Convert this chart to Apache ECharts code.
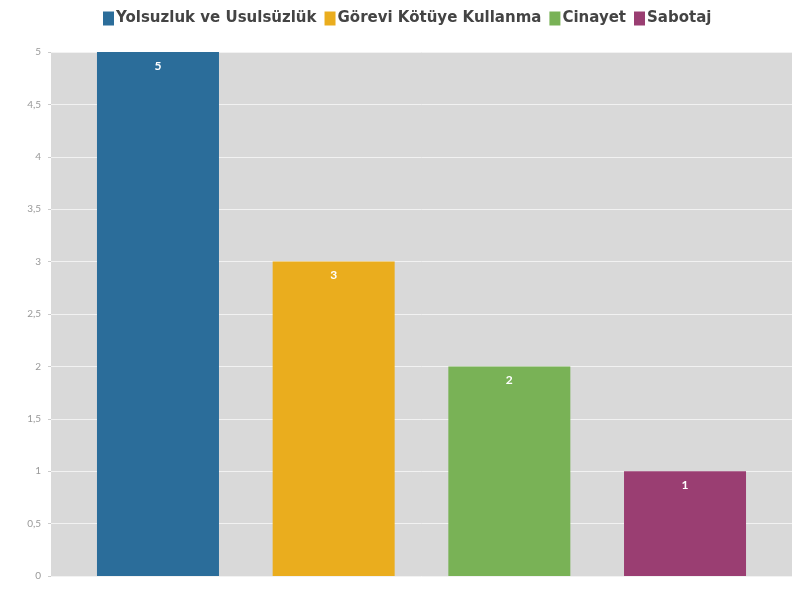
<!DOCTYPE html>
<html>
<head>
<meta charset="utf-8">
<script src="https://cdn.jsdelivr.net/npm/echarts@6/dist/echarts.min.js"></script>
<style>html,body{margin:0;padding:0;background:#fff}#c{width:798px;height:590px}</style>
</head>
<body>
<div id="c"></div>
<script>
const seriesNames = ['Yolsuzluk ve Usulsüzlük', 'Görevi Kötüye Kullanma', 'Cinayet', 'Sabotaj'];
const seriesValues = [5, 3, 2, 1];
const seriesColors = ['#2b6d9a', '#eaad1e', '#79b256', '#9a3e72'];
const categories = [''];
const yTicks = { min: 0, max: 5, interval: 0.5 };

const chart = echarts.init(document.getElementById('c'));
chart.setOption({
  animation: false,
  legend: {
    top: 6, left: 98, itemWidth: 11, itemHeight: 14, itemGap: 8,
    icon: 'rect',
    textStyle: { fontFamily: 'DejaVu Sans', fontWeight: 'bold', fontSize: 15, color: '#444', padding: [0, 0, 0, -3] }
  },
  grid: { left: 51, right: 6, top: 52, bottom: 14, show: true, backgroundColor: '#d9d9d9', borderWidth: 0 },
  xAxis: { type: 'category', data: categories, axisLine: { show: false }, axisTick: { show: false }, axisLabel: { show: false } },
  yAxis: {
    type: 'value', min: yTicks.min, max: yTicks.max, interval: yTicks.interval,
    axisLine: { show: false },
    axisTick: { show: true, length: 3, lineStyle: { color: '#ccc' } },
    axisLabel: { color: '#999', fontSize: 10, fontFamily: 'Lato', margin: 10, formatter: v => String(v).replace('.', ',') },
    splitLine: { lineStyle: { color: '#f2f2f2', width: 1 } }
  },
  series: seriesNames.map((n, i) => ({
    name: n, type: 'bar', barWidth: 122, barGap: '44%',
    itemStyle: { color: seriesColors[i] },
    data: [seriesValues[i]],
    label: { show: true, position: 'insideTop', distance: 8, color: '#fff', fontWeight: 'bold', fontSize: 12, fontFamily: 'Lato' }
  }))
});
</script>
</body>
</html>
